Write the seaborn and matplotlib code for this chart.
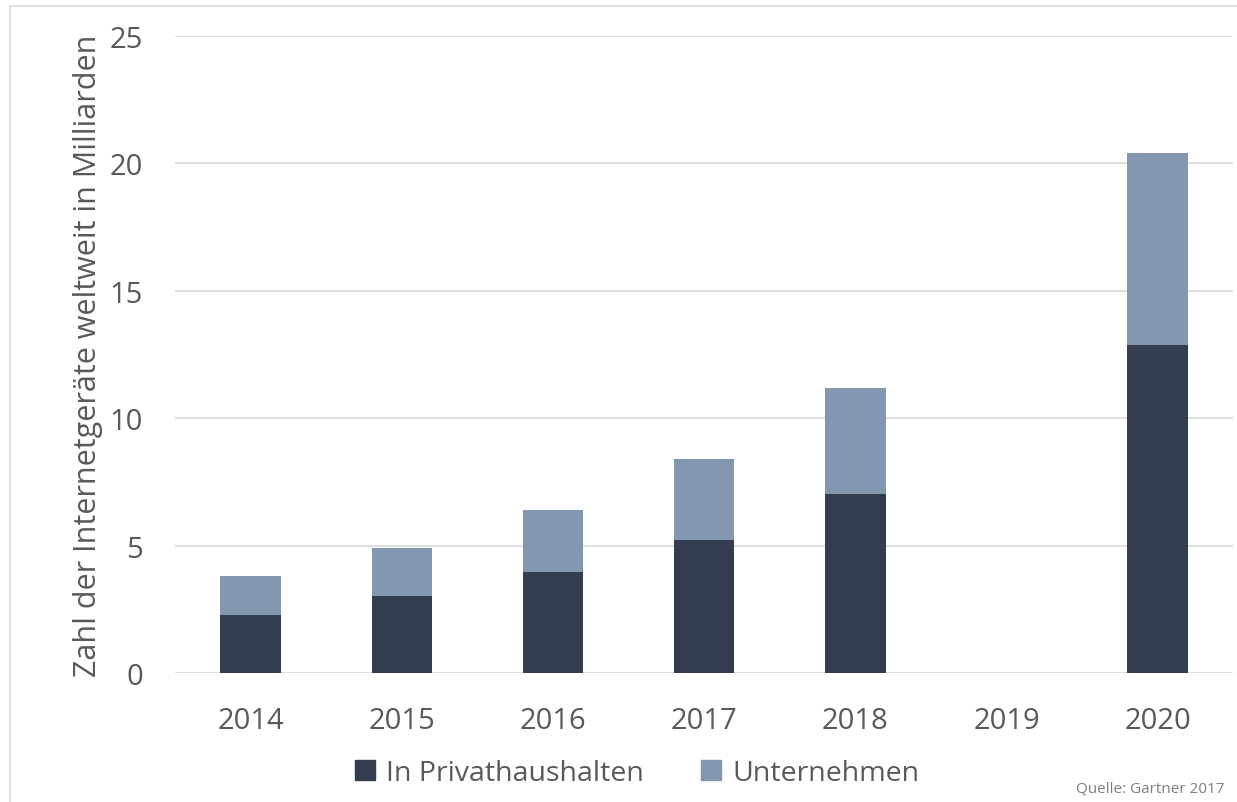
import pandas as pd
import matplotlib.pyplot as plt
import seaborn as sns
from matplotlib.patches import Patch
from matplotlib.lines import Line2D

# Daten (Gartner 2017), Milliarden Geräte
jahre = ['2014', '2015', '2016', '2017', '2018', '2019', '2020']
privathaushalte = [2.28, 3.02, 3.96, 5.24, 7.04, 0.0, 12.86]
unternehmen = [1.53, 1.88, 2.42, 3.14, 4.16, 0.0, 7.55]

gesamt = [p + u for p, u in zip(privathaushalte, unternehmen)]
df = pd.DataFrame({'jahr': jahre, 'privat': privathaushalte, 'gesamt': gesamt})

sns.set_theme(style='white')
plt.rcParams['font.family'] = ['Open Sans', 'DejaVu Sans']

dunkel = '#333d4f'
hell = '#8497b0'
grau = '#595959'

fig = plt.figure(figsize=(12.37, 8.03), dpi=100)
ax = fig.add_axes([0.1415, 0.1606, 0.8555, 0.7934])

# gestapelte Balken: erst Gesamt (hell), darüber Privathaushalte (dunkel)
sns.barplot(data=df, x='jahr', y='gesamt', color=hell, width=0.4,
            saturation=1, linewidth=0, ax=ax, zorder=2)
sns.barplot(data=df, x='jahr', y='privat', color=dunkel, width=0.4,
            saturation=1, linewidth=0, ax=ax, zorder=3)

ax.set_ylim(0, 25)
ax.set_xlim(-0.5, 6.5)
ax.set_yticks([0, 5, 10, 15, 20, 25])
ax.yaxis.grid(True, color='#d9d9d9', linewidth=1.2, zorder=0)
ax.set_axisbelow(True)
for s in ax.spines.values():
    s.set_visible(False)
ax.tick_params(axis='both', length=0, labelsize=21, colors=grau)
ax.tick_params(axis='x', pad=24)
ax.tick_params(axis='y', pad=23)
ax.set_xlabel('')
ax.set_ylabel('Zahl der Internetgeräte weltweit in Milliarden', fontsize=22,
              color=grau, labelpad=5)

handles = [Patch(color=dunkel), Patch(color=hell)]
fig.legend(handles, ['In Privathaushalten', 'Unternehmen'],
           loc='center', bbox_to_anchor=(0.515, 0.036), ncol=2, frameon=False,
           fontsize=20.5, labelcolor=grau, handlelength=0.7, handleheight=0.7,
           handletextpad=0.4, columnspacing=2.0)

fig.text(0.99, 0.018, 'Quelle: Gartner 2017', ha='right', va='center',
         fontsize=11, color='#7f7f7f')

# Rahmen oben und links
fig.add_artist(Line2D([0.008, 1.0], [0.991, 0.991], color='#d9d9d9', linewidth=1.2))
fig.add_artist(Line2D([0.008, 0.008], [0.0, 0.991], color='#d9d9d9', linewidth=1.2))

fig.savefig('out.png', dpi=100)
